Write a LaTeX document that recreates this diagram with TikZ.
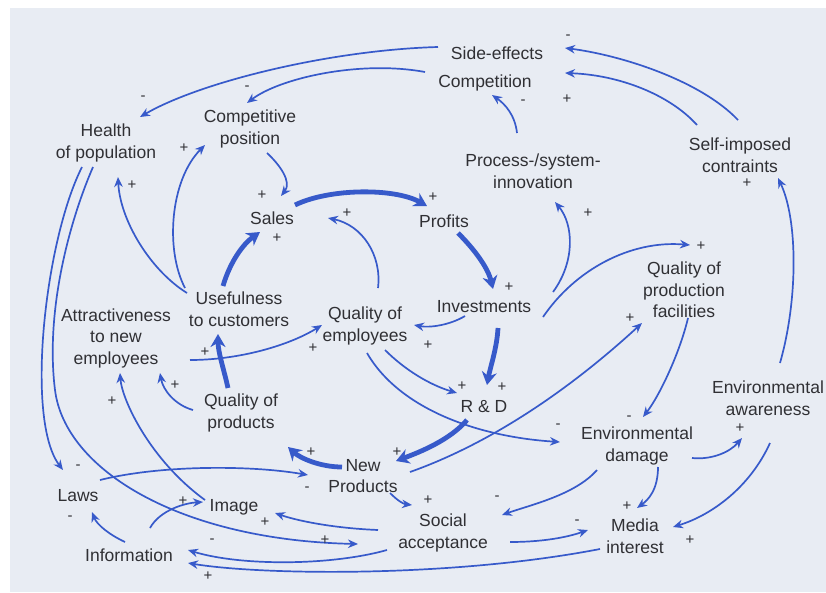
\documentclass[tikz,border=0pt]{standalone}
\usepackage{fontspec}
\setmainfont{Liberation Sans}
\usetikzlibrary{arrows.meta,calc}
\definecolor{paper}{RGB}{232,236,243}
\definecolor{ink}{RGB}{48,48,52}
\definecolor{lineblue}{RGB}{55,90,202}
\begin{document}
\begin{tikzpicture}[x=1pt,y=-1pt,
  txt/.style={font=\fontsize{17.5}{21.5}\selectfont, text=ink, align=center, inner sep=0pt},
  lbl/.style={font=\fontsize{15}{15}\selectfont, text=ink, inner sep=0pt},
  thinarr/.style={draw=lineblue, line width=1.7pt, -{Stealth[length=10pt,width=8.5pt]}},
  thickarr/.style={draw=lineblue, line width=4.8pt, -{Stealth[length=13pt,width=15pt]}}]
\useasboundingbox (0,0) rectangle (826,592);
\fill[white] (0,0) rectangle (826,592);
\fill[paper] (10,8) rectangle (826,592);

% nodes
\node[txt] (side) at (497,53) {Side-effects};
\node[txt] (comp) at (485,83) {Competition};
\node[txt] (health) at (106,143) {Health\\of population};
\node[txt] (cpos) at (250,129) {Competitive\\position};
\node[txt] (proc) at (533,171) {Process-/system-\\innovation};
\node[txt] (self) at (740,155) {Self-imposed\\contraints};
\node[txt] (sales) at (272,218) {Sales};
\node[txt] (profits) at (444,221) {Profits};
\node[txt] (invest) at (484,307) {Investments};
\node[txt] (qemp) at (365,326) {Quality of\\employees};
\node[txt] (useful) at (239,309) {Usefulness\\to customers};
\node[txt] (attr) at (116,338) {Attractiveness\\to new\\employees};
\node[txt] (qprod) at (241,413) {Quality of\\products};
\node[txt] (rd) at (484,407) {R \& D};
\node[txt] (qfac) at (684,290) {Quality of\\production\\facilities};
\node[txt] (eaw) at (768,398) {Environmental\\awareness};
\node[txt] (edam) at (637,446) {Environmental\\damage};
\node[txt] (newp) at (363,476) {New\\Products};
\node[txt] (social) at (443,533) {Social\\acceptance};
\node[txt] (media) at (635,536) {Media\\interest};
\node[txt] (laws) at (78,496) {Laws};
\node[txt] (image) at (234,507) {Image};
\node[txt] (info) at (129,555) {Information};

% thick main loop
\draw[thickarr] ($(sales)+(23,-13)$) .. controls (330,188) and (395,188) .. ($(profits)+(-17,-15)$);
\draw[thickarr] ($(profits)+(14,12)$) .. controls (475,250) and (488,268) .. ($(invest)+(9,-18)$);
\draw[thickarr] ($(invest)+(14,21)$) .. controls (497,348) and (490,368) .. ($(rd)+(3,-22)$);
\draw[thickarr] ($(rd)+(-17,13)$) .. controls (450,440) and (420,452) .. ($(newp)+(33,-15)$);
\draw[thickarr] ($(newp)+(-21,-9)$) .. controls (320,467) and (300,458) .. ($(qprod)+(47,34)$);
\draw[thickarr] ($(qprod)+(-13,-25)$) .. controls (224,370) and (218,352) .. ($(useful)+(-21,25)$);
\draw[thickarr] ($(useful)+(-16,-23)$) .. controls (230,262) and (243,244) .. ($(sales)+(-12,14)$);

% thin connectors
\draw[thinarr] ($(cpos)+(17,24)$) .. controls (280,165) and (292,182) .. ($(sales)+(9,-22)$);
\draw[thinarr] ($(qemp)+(13,-38)$) .. controls (382,255) and (362,225) .. ($(sales)+(56,0)$);
\draw[thinarr] ($(invest)+(-19,9)$) .. controls (450,325) and (430,328) .. ($(qemp)+(49,-1)$);
\draw[thinarr] ($(qemp)+(20,24)$) .. controls (405,370) and (430,385) .. ($(rd)+(-27,-14)$);
\draw[thinarr] ($(qemp)+(2,27)$) .. controls (400,410) and (480,437) .. ($(edam)+(-77,-4)$);
\draw[thinarr] ($(newp)+(47,-4)$) .. controls (500,440) and (580,380) .. ($(qfac)+(-42,33)$);
\draw[thinarr] ($(invest)+(59,10)$) .. controls (575,270) and (630,240) .. ($(qfac)+(6,-45)$);
\draw[thinarr] ($(invest)+(69,-15)$) .. controls (575,262) and (574,225) .. ($(proc)+(22,31)$);
\draw[thinarr] ($(proc)+(-16,-38)$) .. controls (515,115) and (505,104) .. ($(comp)+(7,12)$);
\draw[thinarr] ($(self)+(-2,-35)$) .. controls (700,80) and (620,55) .. ($(side)+(68,-5)$);
\draw[thinarr] ($(self)+(-43,-30)$) .. controls (670,95) and (620,75) .. ($(comp)+(80,-10)$);
\draw[thinarr] ($(side)+(-59,-6)$) .. controls (330,50) and (200,82) .. ($(health)+(34,-26)$);
\draw[thinarr] ($(comp)+(-60,-11)$) .. controls (360,60) and (280,78) .. ($(cpos)+(-3,-26)$);
\draw[thinarr] ($(eaw)+(12,-35)$) .. controls (798,300) and (798,220) .. ($(self)+(38,23)$);
\draw[thinarr] ($(qfac)+(4,28)$) .. controls (680,352) and (660,395) .. ($(edam)+(6,-29)$);
\draw[thinarr] ($(edam)+(55,12)$) .. controls (712,460) and (730,452) .. ($(eaw)+(-26,40)$);
\draw[thinarr] ($(eaw)+(2,45)$) .. controls (750,487) and (712,515) .. ($(media)+(38,-9)$);
\draw[thinarr] ($(edam)+(21,21)$) .. controls (658,490) and (648,500) .. ($(media)+(2,-28)$);
\draw[thinarr] ($(edam)+(-40,24)$) .. controls (575,495) and (530,505) .. ($(social)+(59,-18)$);
\draw[thinarr] ($(social)+(67,9)$) .. controls (540,542) and (565,538) .. ($(media)+(-47,-6)$);
\draw[thinarr] ($(media)+(-35,13)$) .. controls (450,578) and (260,575) .. ($(info)+(59,8)$);
\draw[thinarr] ($(social)+(-56,17)$) .. controls (330,566) and (240,566) .. ($(info)+(59,-5)$);
\draw[thinarr] ($(newp)+(27,17)$) .. controls (397,500) and (403,504) .. ($(social)+(-31,-28)$);
\draw[thinarr] ($(social)+(-65,-3)$) .. controls (330,528) and (295,520) .. ($(image)+(41,6)$);
\draw[thinarr] ($(health)+(-13,24)$) .. controls (70,220) and (45,310) .. (55,390)
   .. controls (65,470) and (180,540) .. ($(social)+(-85,11)$);
\draw[thinarr] ($(health)+(-24,24)$) .. controls (45,240) and (25,420) .. ($(laws)+(-15,-26)$);
\draw[thinarr] ($(laws)+(22,-16)$) .. controls (160,465) and (250,465) .. ($(newp)+(-55,-1)$);
\draw[thinarr] ($(info)+(-4,-13)$) .. controls (110,535) and (97,525) .. ($(laws)+(14,16)$);
\draw[thinarr] ($(info)+(21,-27)$) .. controls (160,510) and (185,503) .. ($(image)+(-31,-5)$);
\draw[thinarr] ($(qprod)+(-48,-3)$) .. controls (175,405) and (163,390) .. ($(attr)+(44,35)$);
\draw[thinarr] ($(image)+(-29,-7)$) .. controls (150,460) and (122,400) .. ($(attr)+(4,35)$);
\draw[thinarr] ($(attr)+(74,22)$) .. controls (240,360) and (290,345) .. ($(qemp)+(-43,-1)$);
\draw[thinarr] ($(useful)+(-52,-16)$) .. controls (150,270) and (120,220) .. ($(health)+(12,34)$);
\draw[thinarr] ($(useful)+(-54,-21)$) .. controls (165,250) and (170,180) .. ($(cpos)+(-45,16)$);

% polarity labels
\node[lbl] (l1) at (433,197) {+};
\node[lbl] (l2) at (509,287) {+};
\node[lbl] (l3) at (502,387) {+};
\node[lbl] (l4) at (397,452) {+};
\node[lbl] (l5) at (311,452) {+};
\node[lbl] (l6) at (205,352) {+};
\node[lbl] (l7) at (277,238) {+};
\node[lbl] (l8) at (262,195) {+};
\node[lbl] (l9) at (347,213) {+};
\node[lbl] (l10) at (428,345) {+};
\node[lbl] (l11) at (462,386) {+};
\node[lbl] (l12) at (558,426) {-};
\node[lbl] (l13) at (630,318) {+};
\node[lbl] (l14) at (701,246) {+};
\node[lbl] (l15) at (588,213) {+};
\node[lbl] (l16) at (523,102) {-};
\node[lbl] (l17) at (568,37) {-};
\node[lbl] (l18) at (567,99) {+};
\node[lbl] (l19) at (143,98) {-};
\node[lbl] (l20) at (247,88) {-};
\node[lbl] (l21) at (747,183) {+};
\node[lbl] (l22) at (629,418) {-};
\node[lbl] (l23) at (740,428) {+};
\node[lbl] (l24) at (690,540) {+};
\node[lbl] (l25) at (627,506) {+};
\node[lbl] (l26) at (497,498) {-};
\node[lbl] (l27) at (577,522) {-};
\node[lbl] (l28) at (208,576) {+};
\node[lbl] (l29) at (212,541) {-};
\node[lbl] (l30) at (428,500) {+};
\node[lbl] (l31) at (265,522) {+};
\node[lbl] (l32) at (325,540) {+};
\node[lbl] (l33) at (78,467) {-};
\node[lbl] (l34) at (307,489) {-};
\node[lbl] (l35) at (70,518) {-};
\node[lbl] (l36) at (183,501) {+};
\node[lbl] (l37) at (175,385) {+};
\node[lbl] (l38) at (112,401) {+};
\node[lbl] (l39) at (313,348) {+};
\node[lbl] (l40) at (132,185) {+};
\node[lbl] (l41) at (184,148) {+};
\end{tikzpicture}
\end{document}
